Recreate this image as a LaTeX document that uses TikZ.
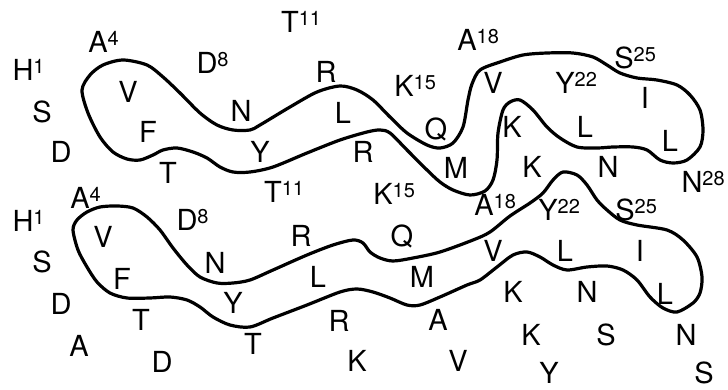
\documentclass[tikz,border=0pt]{standalone}
\usepackage{fontspec}
\setmainfont{TeX Gyre Heros}
\newcommand\sps[1]{\rlap{\smash{\raisebox{7pt}{\fontsize{20}{20}\selectfont#1}}}}
\begin{document}
\begin{tikzpicture}[x=1pt,y=-1pt,
  res/.style={inner sep=0pt,font=\fontsize{29}{29}\selectfont},
  loop/.style={line width=3.2pt,line join=round}]
\useasboundingbox (0,0) rectangle (728,390);
% top strand outline
\draw[loop] plot[smooth cycle,tension=0.5] coordinates {
 (82,90) (90,75) (103,65) (123,60) (147,65) (163,77) (180,93) (200,113) (217,125) (233,130)
 (250,130) (260,125) (290,107) (317,92) (340,86) (357,90) (373,100) (390,117) (407,133)
 (427,145) (440,148) (453,143) (463,127) (468,100) (472,84) (480,70) (500,62) (523,55)
 (547,53) (573,53) (593,57) (607,65) (620,73) (637,78) (657,80) (677,85) (690,95) (700,110)
 (703,130) (700,147) (687,160) (673,163) (660,160) (647,150) (633,147) (613,147) (597,148)
 (577,147) (560,138) (547,127) (533,110) (520,100) (510,102) (503,110) (498,133) (497,160)
 (493,180) (485,191) (470,195) (453,190) (440,182) (427,170) (407,150) (390,133) (380,130)
 (367,132) (340,140) (307,153) (273,167) (250,172) (233,172) (220,167) (207,158) (193,152)
 (177,148) (163,150) (153,155) (140,160) (127,159) (113,152) (100,137) (88,113) };
% bottom strand outline
\draw[loop] plot[smooth cycle,tension=0.5] coordinates {
 (73,230) (77,220) (87,212) (100,207) (117,206) (133,208) (147,217) (160,230) (173,248)
 (187,265) (200,277) (217,283) (233,283) (250,280) (273,270) (307,255) (333,245) (353,240)
 (363,243) (370,252) (380,258) (393,261) (413,258) (440,252) (473,240) (490,232) (510,216)
 (530,203) (543,193) (553,180) (563,172) (577,175) (587,185) (597,200) (607,210) (620,220)
 (637,225) (667,230) (683,240) (697,257) (702,277) (700,293) (693,303) (677,312) (663,308)
 (650,297) (637,280) (623,270) (607,266) (587,267) (567,270) (553,265) (540,257) (527,252)
 (513,255) (497,267) (480,280) (467,285) (440,297) (420,305) (407,305) (390,298) (373,292)
 (357,289) (340,292) (307,305) (273,318) (250,327) (230,325) (213,317) (200,307) (187,300)
 (170,297) (150,298) (127,298) (110,293) (97,282) (87,267) (78,250) };
% top strand residues
\node[res] (a1) at (23,70) {H\sps{1}};
\node[res] (a2) at (42,112) {S};
\node[res] (a3) at (61,152) {D};
\node[res] (a4) at (98,42) {A\sps{4}};
\node[res] (a5) at (128,92) {V};
\node[res] (a6) at (148,132) {F};
\node[res] (a7) at (168,173) {T};
\node[res] (a8) at (207,63) {D\sps{8}};
\node[res] (a9) at (241,111) {N};
\node[res] (a10) at (260,152) {Y};
\node[res] (a11) at (290,22) {T\sps{11}};
\node[res] (a12) at (326,72) {R};
\node[res] (a13) at (343,113) {L};
\node[res] (a14) at (363,152) {R};
\node[res] (a15) at (404,86) {K\sps{15}};
\node[res] (a16) at (436,129) {Q};
\node[res] (a17) at (456,168) {M};
\node[res] (a18) at (467,40) {A\sps{18}};
\node[res] (a19) at (493,83) {V};
\node[res] (a20) at (512,127) {K};
\node[res] (a21) at (532,167) {K};
\node[res] (a22) at (565,83) {Y\sps{22}};
\node[res] (a23) at (585,127) {L};
\node[res] (a24) at (608,167) {N};
\node[res] (a25) at (624,58) {S\sps{25}};
\node[res] (a26) at (645,98) {I};
\node[res] (a27) at (670,141) {L};
\node[res] (a28) at (692,182) {N\sps{28}};
\node[res] (a29) at (273,192) {T\sps{11}};
\node[res] (a30) at (383,194) {K\sps{15}};
% bottom strand residues
\node[res] (b1) at (23,221) {H\sps{1}};
\node[res] (b2) at (42,262) {S};
\node[res] (b3) at (61,304) {D};
\node[res] (b4) at (79,346) {A};
\node[res] (b5) at (80,198) {A\sps{4}};
\node[res] (b6) at (103,237) {V};
\node[res] (b7) at (122,279) {F};
\node[res] (b8) at (141,320) {T};
\node[res] (b9) at (162,362) {D};
\node[res] (b10) at (187,220) {D\sps{8}};
\node[res] (b11) at (215,263) {N};
\node[res] (b12) at (233,303) {Y};
\node[res] (b13) at (253,344) {T};
\node[res] (b14) at (301,236) {R};
\node[res] (b15) at (318,277) {L};
\node[res] (b16) at (339,321) {R};
\node[res] (b17) at (357,361) {K};
\node[res] (b18) at (402,236) {Q};
\node[res] (b19) at (422,277) {M};
\node[res] (b20) at (438,320) {A};
\node[res] (b21) at (458,361) {V};
\node[res] (b22) at (484,205) {A\sps{18}};
\node[res] (b23) at (493,251) {V};
\node[res] (b24) at (513,292) {K};
\node[res] (b25) at (531,335) {K};
\node[res] (b26) at (549,373) {Y};
\node[res] (b27) at (548,210) {Y\sps{22}};
\node[res] (b28) at (565,251) {L};
\node[res] (b29) at (587,292) {N};
\node[res] (b30) at (606,335) {S};
\node[res] (b31) at (625,210) {S\sps{25}};
\node[res] (b32) at (640,251) {I};
\node[res] (b33) at (665,294) {L};
\node[res] (b34) at (686,335) {N};
\node[res] (b35) at (704,373) {S};
\end{tikzpicture}
\end{document}
